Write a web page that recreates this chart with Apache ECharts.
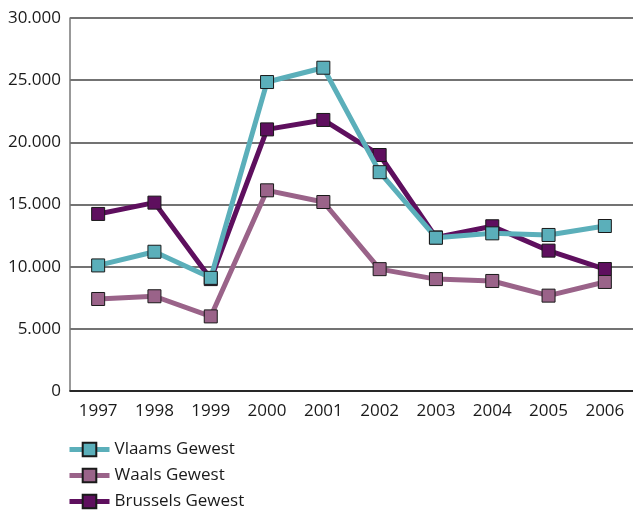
<!DOCTYPE html>
<html><head><meta charset="utf-8">
<script src="https://cdn.jsdelivr.net/npm/echarts@6/dist/echarts.min.js"></script>
<style>html,body{margin:0;padding:0;background:#fff}#c{width:633px;height:510px}</style>
</head><body><div id="c"></div>
<script>
const years = ['1997','1998','1999','2000','2001','2002','2003','2004','2005','2006'];
const vlaams = [10100, 11200, 9100, 24850, 26000, 17600, 12330, 12680, 12550, 13270];
const waals = [7400, 7620, 6000, 16140, 15200, 9800, 9000, 8850, 7670, 8770];
const brussels = [14240, 15150, 9000, 21040, 21800, 18980, 12350, 13250, 11290, 9810];
const seriesNames = ['Vlaams Gewest', 'Waals Gewest', 'Brussels Gewest'];
const colors = ['#5BAFBA', '#9A6389', '#5E0F5E'];

const chart = echarts.init(document.getElementById('c'));
const font = 'Open Sans';
function mk(name, data, color, z) {
  return {
    name, type: 'line', data, z,
    symbol: 'rect', symbolSize: 13,
    itemStyle: { color, borderColor: '#1a1a1a', borderWidth: 1 },
    lineStyle: { color, width: 5 },
    emphasis: { disabled: true }, animation: false
  };
}
chart.setOption({
  animation: false,
  textStyle: { fontFamily: font },
  grid: { left: 70, top: 18, width: 565, height: 373, containLabel: false },
  legend: {
    orient: 'vertical', left: 62, top: 436, height: 100, itemWidth: 40, itemHeight: 17, itemGap: 9,
    lineStyle: { width: 5 },
    textStyle: { fontFamily: font, fontSize: 17, lineHeight: 17, color: '#1a1a1a', padding: [0,0,0,0] },
    data: seriesNames
  },
  xAxis: {
    type: 'category', data: years, boundaryGap: true,
    axisLine: { lineStyle: { color: '#111', width: 1.5 } },
    axisTick: { inside: true, length: 9, lineStyle: { color: '#111' } },
    axisLabel: { fontFamily: font, fontSize: 17, color: '#1a1a1a', margin: 12 }
  },
  yAxis: {
    type: 'value', min: 0, max: 30000, interval: 5000,
    axisLine: { show: true, lineStyle: { color: '#777', width: 1.5 } },
    axisTick: { show: false },
    splitLine: { lineStyle: { color: '#444', width: 1.5 } },
    axisLabel: { fontFamily: font, fontSize: 17, color: '#1a1a1a', margin: 9,
      formatter: v => String(v).replace(/\B(?=(\d{3})+(?!\d))/g, '.') }
  },
  series: [
    mk(seriesNames[2], brussels, colors[2], 2),
    mk(seriesNames[1], waals, colors[1], 3),
    mk(seriesNames[0], vlaams, colors[0], 4)
  ]
});
</script></body></html>
